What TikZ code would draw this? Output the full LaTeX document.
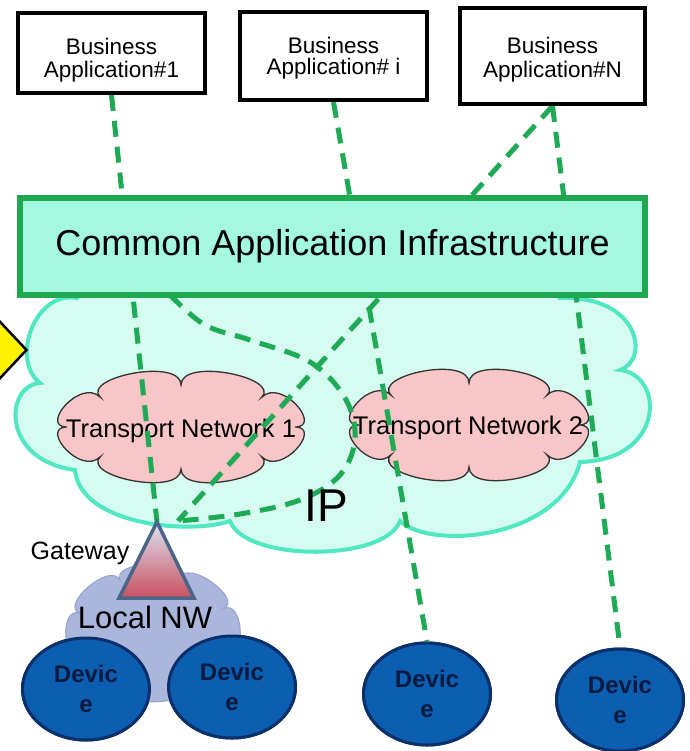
\documentclass[tikz,border=0pt]{standalone}
\usepackage{fontspec}
\setmainfont{Liberation Sans}
\usetikzlibrary{shapes.geometric}
\definecolor{ipfill}{HTML}{D6FCF1}
\definecolor{ipborder}{HTML}{4FE8C2}
\definecolor{caifill}{HTML}{A3F8DF}
\definecolor{caiborder}{HTML}{1FA84F}
\definecolor{tnfill}{HTML}{F8C6C6}
\definecolor{lnwfill}{HTML}{AAB6DC}
\definecolor{lnwborder}{HTML}{95A3D2}
\definecolor{gwtopc}{HTML}{DDE3F3}
\definecolor{gwbotc}{HTML}{C8505E}
\definecolor{gwborder}{HTML}{4A6585}
\definecolor{devfill}{HTML}{0B5EB0}
\definecolor{devborder}{HTML}{0A2F6A}
\definecolor{devtext}{HTML}{0A1A40}
\definecolor{dashgreen}{HTML}{1FAA55}
% #1 style, #2 cx, #3 cy, #4 rx, #5 ry, #6 puffs, #7 puff depth, #8 start angle
\newcommand{\cloudshape}[8]{%
  \pgfmathsetmacro{\cst}{360/#6}%
  \draw[#1] ({#2+#4*cos(#8)},{#3+#5*sin(#8)})
   \foreach \i in {1,...,#6} {
     .. controls ({#2+(#4+#7)*cos(#8+(\i-1)*\cst)},{#3+(#5+#7)*sin(#8+(\i-1)*\cst)})
     and ({#2+(#4+#7)*cos(#8+\i*\cst)},{#3+(#5+#7)*sin(#8+\i*\cst)})
     .. ({#2+#4*cos(#8+\i*\cst)},{#3+#5*sin(#8+\i*\cst)})
   } -- cycle;}
\begin{document}
\begin{tikzpicture}[x=1pt,y=-1pt,
  appbox/.style={draw=black,line width=4,fill=white,inner sep=0},
  apptext/.style={align=center,inner sep=0},
  tnstyle/.style={draw=black!80,line width=1.3,fill=tnfill},
  tntext/.style={inner sep=0,font=\fontsize{25.5}{27}\selectfont},
  device/.style={ellipse,draw=devborder,line width=3,fill=devfill,inner sep=0,
    minimum width=127,minimum height=102,align=center,text=devtext,
    font=\fontsize{24}{30}\selectfont\bfseries},
  dashline/.style={draw=dashgreen,line width=5,dash pattern=on 16pt off 10pt}]
\useasboundingbox (0,0) rectangle (689,751);
% IP cloud
\draw[draw=ipborder,fill=ipfill,line width=4] (77,298)
  .. controls (35,290) and (10,360) .. (40,383)
  .. controls (5,385) and (0,460) .. (75,470)
  .. controls (80,525) and (190,535) .. (230,521)
  .. controls (245,562) and (385,562) .. (400,521)
  .. controls (430,550) and (560,540) .. (580,462)
  .. controls (665,460) and (665,375) .. (620,370)
  .. controls (650,360) and (640,295) .. (560,298)
  .. controls (540,270) and (100,270) .. (77,298) -- cycle;
% yellow diamond
\node[diamond,draw=black,line width=2.5,fill=yellow,minimum width=62,minimum height=66,inner sep=0] (yd) at (-4,350) {};
% transport networks
\cloudshape{tnstyle}{181}{427}{114}{42}{8}{28}{0}
\cloudshape{tnstyle}{469}{425}{110}{42}{8}{28}{0}
\node[tntext] (tn1) at (181,431) {Transport Network 1};
\node[tntext] (tn2) at (468,428) {Transport Network 2};
% business apps (boxes)
\node[appbox,minimum width=187,minimum height=80] (b1) at (111.5,53) {};
\node[appbox,minimum width=187,minimum height=88] (bi) at (333.5,56) {};
\node[appbox,minimum width=185,minimum height=96] (bN) at (552.5,56) {};
% devices
\node[device] (d1) at (86,689) {Devic\\e};
\node[device] (d2) at (232,687) {Devic\\e};
\node[device] (d3) at (427,694) {Devic\\e};
\node[device] (d4) at (620,700) {Devic\\e};
% coordinates
\coordinate (gwtop) at (157,522);
\coordinate (meet) at (178,521);
\coordinate (curvestart) at (170,295);
% dashed connectors
\draw[dashline] (b1.south) -- (gwtop);
\draw[dashline] (bi.south) -- (d3.north);
\draw[dashline] (bN.south) -- (d4.north);
\draw[dashline] (bN.south) -- (meet);
\draw[dashline] plot[smooth,tension=0.6] coordinates {(curvestart) (205,325) (250,340) (310,362) (345,398) (355,438) (340,475) (300,500) (240,514) (meet)};
% common application infrastructure
\node[draw=caiborder,fill=caifill,line width=6,minimum width=625,minimum height=97,inner sep=0,
  font=\fontsize{36}{40}\selectfont] (cai) at (332.5,246.5) {Common Application Infrastructure};
% business boxes on top of lines
\node[appbox,minimum width=187,minimum height=80] at (b1) {};
\node[appbox,minimum width=187,minimum height=88] at (bi) {};
\node[appbox,minimum width=185,minimum height=96] at (bN) {};
\node[apptext,font=\fontsize{22.5}{23}\selectfont] (b1t) at (111.5,60) {Business\\Application\#1};
\node[apptext,font=\fontsize{22.5}{21}\selectfont] (bit) at (333.5,58) {Business\\Application\# i};
\node[apptext,font=\fontsize{22.5}{24}\selectfont] (bNt) at (552.5,60) {Business\\Application\#N};
% IP label
\node[font=\fontsize{46}{48}\selectfont,inner sep=0] (iplabel) at (326,506) {IP};
% local network
\cloudshape{draw=lnwborder,fill=lnwfill,line width=1}{153}{633}{78}{58}{8}{22}{20}
\node[font=\fontsize{31}{33}\selectfont,inner sep=0] (lnwlabel) at (145,617) {Local NW};
\shade[top color=gwtopc,bottom color=gwbotc,draw=gwborder,line width=3.5,line join=miter]
  (gwtop) -- (194,598) -- (119,598) -- cycle;
\node[font=\fontsize{25}{27}\selectfont,inner sep=0] (gwlabel) at (80,553) {Gateway};
% devices on top
\node[device] at (d1) {Devic\\e};
\node[device] at (d2) {Devic\\e};
\node[device] at (d3) {Devic\\e};
\node[device] at (d4) {Devic\\e};
\end{tikzpicture}
\end{document}
